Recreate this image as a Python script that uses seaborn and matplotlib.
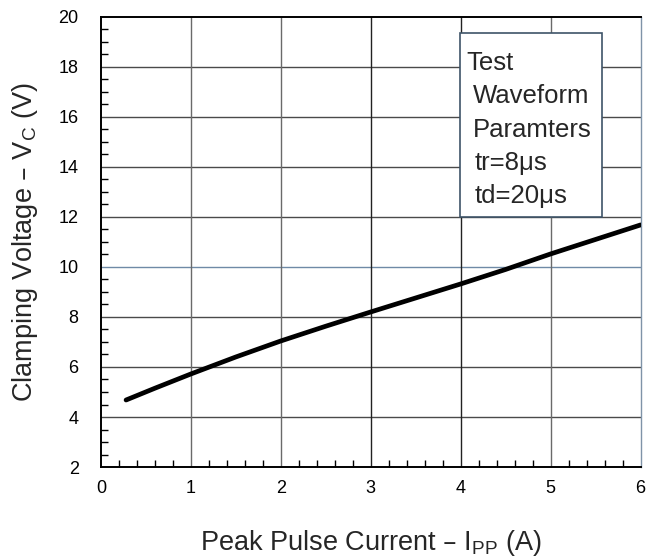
import matplotlib
matplotlib.use("Agg")
import matplotlib.pyplot as plt
from matplotlib.ticker import MultipleLocator
import seaborn as sns
import pandas as pd

# curve
current_a = [0.28, 0.6, 1.0, 1.5, 2.0, 2.5, 3.0, 3.5, 4.0, 4.5, 5.0, 5.5, 6.0]
clamp_v = [4.68, 5.15, 5.72, 6.4, 7.04, 7.63, 8.2, 8.76, 9.32, 9.9, 10.52, 11.1, 11.68]

x_ticks = [0, 1, 2, 3, 4, 5, 6]
y_ticks = [2, 4, 6, 8, 10, 12, 14, 16, 18, 20]
box_lines = ["Test", "Waveform", "Paramters", "tr=8\u03bcs", "td=20\u03bcs"]

sns.set_theme(style="white")
plt.rcParams['font.family'] = ['Liberation Sans', 'DejaVu Sans']

df = pd.DataFrame({"I": current_a, "V": clamp_v})

fig = plt.figure(figsize=(6.68, 5.6), dpi=100)
ax = fig.add_axes([0.151, 0.166, 0.808, 0.804])

for v in y_ticks[1:-1]:
    ax.axhline(v, color='#6f8aa6' if v == 10 else '#4a4a4a', lw=1.0, zorder=1)
for v in x_ticks[1:-1]:
    ax.axvline(v, color='#6a6a6a' if v in (1, 2, 5) else '#222222', lw=1.0, zorder=1)

sns.lineplot(data=df, x="I", y="V", ax=ax, color='black', lw=3.4, zorder=3)

ax.set_xlim(0, 6)
ax.set_ylim(2, 20)
ax.set_xticks(x_ticks)
ax.set_yticks(y_ticks)
ax.xaxis.set_minor_locator(MultipleLocator(0.2))
ax.yaxis.set_minor_locator(MultipleLocator(0.5))
ax.tick_params(axis='both', which='both', direction='in', bottom=True, left=True,
               labelsize=13, colors='black')
ax.tick_params(which='major', length=0)
ax.tick_params(axis='x', which='major', pad=9)
ax.tick_params(axis='y', which='major', pad=16)
ax.tick_params(which='minor', length=5, width=1)
for s in ax.spines.values():
    s.set_color('black')
    s.set_linewidth(1.4)
ax.spines['right'].set_color('#7f93a8')
ax.spines['right'].set_linewidth(1.0)

ax.set_xlabel("Peak Pulse Current \u2013 I$_{\\mathregular{PP}}$ (A)", fontsize=19.5, labelpad=23)
ax.set_ylabel("Clamping Voltage \u2013 V$_{\\mathregular{C}}$ (V)", fontsize=19.5, labelpad=13)

# text box
ax.add_patch(plt.Rectangle((3.99, 12.0), 1.58, 7.36, facecolor='white',
                           edgecolor='#3e5468', lw=1.2, zorder=4))
text_x = [4.06, 4.13, 4.14, 4.15, 4.15]
text_y = [17.88, 16.56, 15.2, 13.88, 12.56]
for tx, ty, line in zip(text_x, text_y, box_lines):
    ax.text(tx, ty, line, fontsize=18.5, va='baseline', ha='left', zorder=5)

fig.savefig("out.png", dpi=100)
plt.close(fig)
